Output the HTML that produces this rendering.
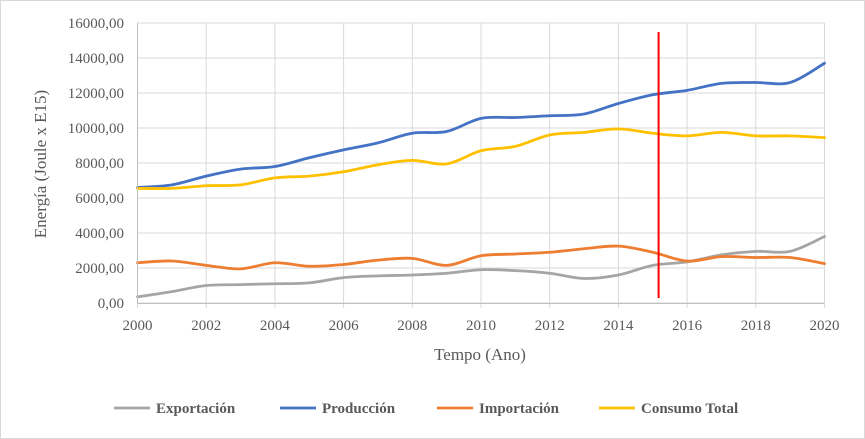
<!DOCTYPE html>
<html><head><meta charset="utf-8"><style>
body{margin:0;background:#fff}
svg{display:block;font-family:"Liberation Serif",serif}
</style></head><body>
<svg id="chart" width="865" height="439" viewBox="0 0 865 439">
<rect x="0.5" y="0.5" width="864" height="438" fill="#fff" stroke="#d9d9d9"/>
<g id="grid"></g><g id="series"></g><g id="axes"></g>
<text x="480" y="360" text-anchor="middle" font-size="17" fill="#595959">Tempo (Ano)</text>
<text transform="translate(46,164) rotate(-90)" text-anchor="middle" font-size="17" fill="#595959">Energía (Joule x E15)</text>
<g id="legend"></g>
</svg>
<script>
const years=[2000,2001,2002,2003,2004,2005,2006,2007,2008,2009,2010,2011,2012,2013,2014,2015,2016,2017,2018,2019,2020];
const exportacion=[350,650,1000,1050,1100,1150,1450,1550,1600,1700,1900,1850,1700,1400,1600,2150,2350,2750,2950,2950,3800];
const produccion=[6600,6750,7250,7650,7800,8300,8750,9150,9700,9800,10550,10600,10700,10800,11400,11900,12150,12550,12600,12600,13700];
const importacion=[2300,2400,2150,1950,2300,2100,2200,2450,2550,2150,2700,2800,2900,3100,3250,2900,2400,2650,2600,2600,2250];
const consumo=[6550,6550,6700,6750,7150,7250,7500,7900,8150,7950,8700,8950,9600,9750,9950,9700,9550,9750,9550,9550,9450];
const yTicks=[0,2000,4000,6000,8000,10000,12000,14000,16000];
const xTicks=[2000,2002,2004,2006,2008,2010,2012,2014,2016,2018,2020];
const markerYear=2015.17;
const NS="http://www.w3.org/2000/svg";
const X=v=>137.5+(v-2000)*34.35;
const Y=v=>303-v/2000*35;
function mk(tag,attrs,parent){const e=document.createElementNS(NS,tag);for(const k in attrs)e.setAttribute(k,attrs[k]);parent.appendChild(e);return e;}
const grid=document.getElementById('grid'),axes=document.getElementById('axes'),series=document.getElementById('series'),legend=document.getElementById('legend');
yTicks.forEach(t=>{
  const l=mk('line',{x1:137.5,x2:824.5,y1:Y(t),y2:Y(t),stroke:'#d9d9d9','stroke-width':1},grid);
  
  
  const tx=mk('text',{x:124,y:Y(t)+5,'text-anchor':'end','font-size':15,fill:'#595959'},axes);
  tx.textContent=t.toFixed(2).replace('.',',');
  
  
});
xTicks.forEach(t=>{
  const l=mk('line',{x1:X(t),x2:X(t),y1:Y(16000),y2:Y(0)+5,stroke:'#d9d9d9','stroke-width':1},grid);
  
  
  const tx=mk('text',{x:X(t),y:330,'text-anchor':'middle','font-size':15,fill:'#595959'},axes);
  tx.textContent=t;
  
  
});
const ax=mk('line',{x1:137.5,x2:824.5,y1:303.5,y2:303.5,stroke:'#bfbfbf','stroke-width':1},axes);


const ay=mk('line',{x1:137.5,x2:137.5,y1:Y(16000),y2:303.5,stroke:'#bfbfbf','stroke-width':1},axes);


function smooth(vals){
  const p=vals.map((v,i)=>[X(years[i]),Y(v)]);
  let d='M'+p[0][0]+','+p[0][1];
  for(let i=0;i<p.length-1;i++){
    const p0=p[i-1]||p[i],p1=p[i],p2=p[i+1],p3=p[i+2]||p2;
    const c1=[p1[0]+(p2[0]-p0[0])/6,p1[1]+(p2[1]-p0[1])/6];
    const c2=[p2[0]-(p3[0]-p1[0])/6,p2[1]-(p3[1]-p1[1])/6];
    d+=' C'+c1+' '+c2+' '+p2;
  }
  return d;
}
const defs=[['Exportación',exportacion,'#a5a5a5','series-exportacion'],['Producción',produccion,'#4472c4','series-produccion'],['Importación',importacion,'#ed7d31','series-importacion'],['Consumo Total',consumo,'#ffc000','series-consumo-total']];
defs.forEach(s=>{
  const p=mk('path',{d:smooth(s[1]),fill:'none',stroke:s[2],'stroke-width':2.8,'stroke-linecap':'round'},series);
  
  
});
const rl=mk('line',{x1:X(markerYear),x2:X(markerYear),y1:32,y2:298,stroke:'#ff0000','stroke-width':2},series);


const lx=[114,280,437,599];
defs.forEach((s,i)=>{
  const g=mk('g',{},legend);
  
  
  mk('line',{x1:lx[i],x2:lx[i]+36,y1:408,y2:408,stroke:s[2],'stroke-width':2.8},g);
  const t=mk('text',{x:lx[i]+42,y:413,'font-size':15,'font-weight':'bold',fill:'#595959'},g);
  t.textContent=s[0];
});
</script>
</body></html>
